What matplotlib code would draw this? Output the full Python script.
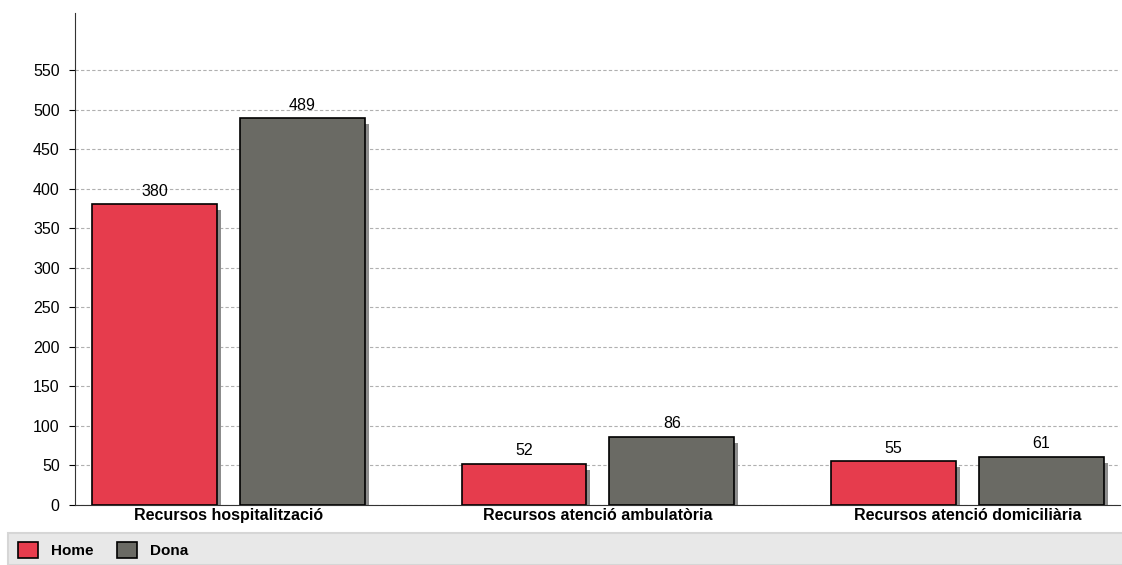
import matplotlib
matplotlib.use('Agg')
import numpy as np
import matplotlib.pyplot as plt
import matplotlib.transforms as mtransforms
from matplotlib.patches import Rectangle

plt.rcParams['font.family'] = ['Liberation Sans', 'DejaVu Sans']

categories = ['Recursos hospitalització', 'Recursos atenció ambulatòria', 'Recursos atenció domiciliària']
home = [380, 52, 55]
dona = [489, 86, 61]
series_names = ['Home', 'Dona']
yticks = [0, 50, 100, 150, 200, 250, 300, 350, 400, 450, 500, 550]

red = '#e63c4d'
grey = '#6a6a64'
shadow = '#8c8c8c'

fig = plt.figure(figsize=(11.22, 5.65), dpi=100)
ax = fig.add_axes([75 / 1122, 1 - 505 / 565, 1045 / 1122, 492 / 565])

x = np.arange(len(categories))
w = 0.338
off = 0.2

# sombra de les barres
sh = mtransforms.offset_copy(ax.transData, fig=fig, x=4, y=-6, units='dots')
for xs, vals in [(x - off, home), (x + off, dona)]:
    ax.bar(xs, vals, w, color=shadow, edgecolor='none', transform=sh, zorder=2)

b1 = ax.bar(x - off, home, w, color=red, edgecolor='black', linewidth=1.2, zorder=3, label=series_names[0])
b2 = ax.bar(x + off, dona, w, color=grey, edgecolor='black', linewidth=1.2, zorder=3, label=series_names[1])

for bars, vals in [(b1, home), (b2, dona)]:
    for r, v in zip(bars, vals):
        ax.annotate(str(v), (r.get_x() + r.get_width() / 2, v), xytext=(0, 4),
                    textcoords='offset points', ha='center', va='bottom', fontsize=11.5, zorder=4)

ax.set_xlim(-0.415, 2.413)
ax.set_ylim(0, 622)
ax.set_yticks(yticks)
ax.set_xticks(x)
ax.set_xticklabels(categories, fontweight='bold', fontsize=11.5)
ax.tick_params(axis='x', length=0, pad=2)
ax.tick_params(axis='y', length=4, labelsize=11.5, pad=7)
ax.yaxis.grid(True, linestyle=(0, (3, 2)), color='#b0b0b0', linewidth=0.8)
ax.set_axisbelow(True)
for s in ['top', 'right']:
    ax.spines[s].set_visible(False)
ax.spines['left'].set_color('#333333')
ax.spines['bottom'].set_color('#333333')

# banda de la llegenda
fig.patches.append(Rectangle((8 / 1122, 0), 1, 32 / 565, transform=fig.transFigure,
                             facecolor='#e8e8e8', edgecolor='#d6d6d6', linewidth=1.5, zorder=0))
leg = fig.legend(handles=[b1, b2], labels=series_names, loc='center left',
                 bbox_to_anchor=(4 / 1122, 1 - 550 / 565), ncol=2, frameon=False,
                 handlelength=1.3, handleheight=1.3, handletextpad=0.9, columnspacing=1.5,
                 prop={'weight': 'bold', 'size': 11})

fig.savefig('out.png', dpi=100)
